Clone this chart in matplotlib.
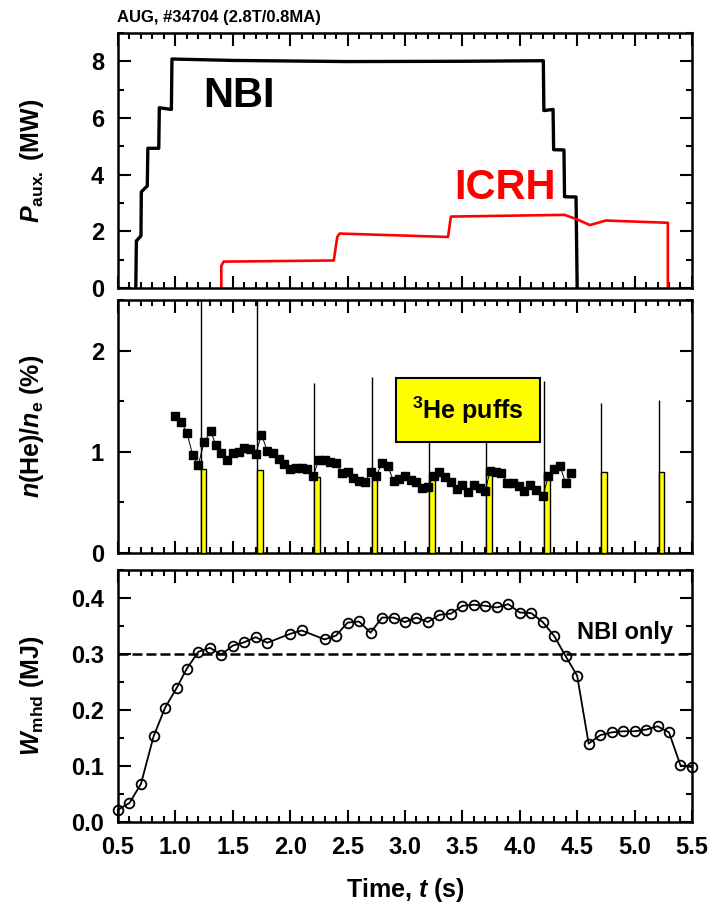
import matplotlib
matplotlib.use("Agg")
import matplotlib.pyplot as plt
from matplotlib.ticker import MultipleLocator, FormatStrFormatter

plt.rcParams['font.family'] = ['Liberation Sans', 'DejaVu Sans']
plt.rcParams['font.weight'] = 'bold'
plt.rcParams['axes.labelweight'] = 'bold'
plt.rcParams['mathtext.fontset'] = 'custom'
plt.rcParams['mathtext.rm'] = 'Liberation Sans:bold'
plt.rcParams['mathtext.it'] = 'Liberation Sans:italic:bold'
plt.rcParams['mathtext.bf'] = 'Liberation Sans:bold'

# --- auxiliary heating power (MW), breakpoints of the traces ---
nbi_t = [0.655, 0.66, 0.70, 0.703, 0.755, 0.76, 0.855, 0.86, 0.965, 0.97,
         1.5, 2.5, 3.5, 4.205, 4.21, 4.29, 4.295, 4.385, 4.39, 4.49, 4.50]
nbi_p = [0.0, 1.66, 1.84, 3.39, 3.60, 4.93, 4.93, 6.36, 6.30, 8.08,
         8.03, 7.99, 8.00, 8.02, 6.26, 6.30, 4.88, 4.87, 3.22, 3.21, 0.0]

icrh_t = [1.40, 1.40, 1.42, 2.38, 2.41, 2.43, 3.375, 3.40, 4.39, 4.50,
          4.61, 4.75, 5.29, 5.29]
icrh_p = [0.0, 0.78, 0.93, 0.97, 1.80, 1.92, 1.80, 2.52, 2.58, 2.42,
          2.22, 2.38, 2.30, 0.0]

# --- 3He puffs and helium concentration ---
puff_t = [1.22, 1.71, 2.21, 2.71, 3.21, 3.71, 4.21, 4.71, 5.21]
puff_spike = [3.0, 3.0, 1.68, 1.74, 1.70, 1.70, 1.70, 1.48, 1.51]
puff_bar = [0.83, 0.82, 0.75, 0.75, 0.79, 0.79, 0.79, 0.80, 0.80]

he_t = [1.00, 1.05, 1.10, 1.15, 1.20, 1.25, 1.31, 1.35, 1.40, 1.45,
        1.50, 1.55, 1.60, 1.65, 1.70, 1.75, 1.80, 1.85, 1.90, 1.95,
        2.00, 2.05, 2.10, 2.15, 2.20, 2.25, 2.30, 2.35, 2.40, 2.45,
        2.50, 2.55, 2.60, 2.65, 2.70, 2.75, 2.80, 2.85, 2.90, 2.95,
        3.00, 3.05, 3.10, 3.15, 3.20, 3.25, 3.30, 3.35, 3.40, 3.45,
        3.50, 3.55, 3.60, 3.65, 3.70, 3.74, 3.79, 3.84, 3.89, 3.94,
        3.99, 4.04, 4.09, 4.14, 4.20, 4.25, 4.30, 4.35, 4.40, 4.45]
he_frac = [1.35, 1.29, 1.19, 0.97, 0.87, 1.10, 1.20, 1.07, 0.99, 0.92,
           0.99, 1.00, 1.04, 1.03, 0.98, 1.17, 1.01, 0.99, 0.93, 0.88,
           0.83, 0.84, 0.84, 0.83, 0.76, 0.92, 0.92, 0.90, 0.89, 0.79,
           0.80, 0.74, 0.71, 0.70, 0.80, 0.76, 0.89, 0.86, 0.71, 0.73,
           0.76, 0.72, 0.70, 0.64, 0.65, 0.76, 0.80, 0.75, 0.70, 0.63,
           0.67, 0.60, 0.67, 0.64, 0.61, 0.81, 0.80, 0.79, 0.69, 0.69,
           0.66, 0.61, 0.67, 0.62, 0.56, 0.76, 0.83, 0.86, 0.69, 0.79]

# --- stored energy (MJ) ---
w_t = [0.50, 0.60, 0.70, 0.81, 0.91, 1.01, 1.10, 1.20, 1.30, 1.40,
       1.50, 1.60, 1.70, 1.80, 2.00, 2.10, 2.30, 2.40, 2.50, 2.60,
       2.70, 2.80, 2.90, 3.00, 3.10, 3.20, 3.30, 3.40, 3.50, 3.60,
       3.70, 3.80, 3.90, 4.00, 4.10, 4.20, 4.30, 4.40, 4.50, 4.60,
       4.70, 4.80, 4.90, 5.00, 5.10, 5.20, 5.30, 5.40, 5.50]
w_mhd = [0.022, 0.034, 0.068, 0.153, 0.204, 0.239, 0.274, 0.304, 0.311, 0.299,
         0.315, 0.321, 0.330, 0.320, 0.336, 0.342, 0.326, 0.333, 0.356, 0.358,
         0.338, 0.365, 0.365, 0.357, 0.365, 0.357, 0.370, 0.372, 0.386, 0.388,
         0.386, 0.383, 0.389, 0.374, 0.373, 0.357, 0.332, 0.296, 0.261, 0.140,
         0.155, 0.160, 0.162, 0.162, 0.165, 0.171, 0.160, 0.101, 0.098]
w_nbi_only = 0.30


def style(ax):
    ax.set_xlim(0.5, 5.5)
    ax.xaxis.set_major_locator(MultipleLocator(0.5))
    ax.xaxis.set_minor_locator(MultipleLocator(0.1))
    ax.tick_params(which='both', direction='in', top=True, right=True,
                   width=1.5, labelsize=17, pad=10)
    ax.tick_params(which='major', length=9)
    ax.tick_params(which='minor', length=4.5)
    for s in ax.spines.values():
        s.set_linewidth(1.8)


fig = plt.figure(figsize=(7.1, 9.05), dpi=100)
left, width = 0.1662, 0.8084
ax1 = fig.add_axes([left, 0.6818, width, 0.2818])
ax2 = fig.add_axes([left, 0.3890, width, 0.2796])
ax3 = fig.add_axes([left, 0.0917, width, 0.2785])

# panel 1: heating power
ax1.plot(nbi_t, nbi_p, color='black', lw=2.4)
ax1.plot(icrh_t, icrh_p, color='red', lw=1.9)
ax1.text(1.55, 6.76, 'NBI', fontsize=30, ha='center', va='center')
ax1.text(3.87, 3.52, 'ICRH', fontsize=30, color='red', ha='center', va='center')
style(ax1)
ax1.set_ylim(0, 9)
ax1.yaxis.set_major_locator(MultipleLocator(2))
ax1.yaxis.set_minor_locator(MultipleLocator(1))
ax1.tick_params(labelbottom=False)
ax1.set_ylabel(r'$P_{\rm aux.}$ (MW)', fontsize=18)
ax1.yaxis.set_label_coords(-0.125, 0.5)

# panel 2: helium concentration and puffs
ax2.vlines(puff_t, 0, puff_spike, color='black', lw=1.0, zorder=2)
ax2.bar(puff_t, puff_bar, width=0.05, align='edge', color='#ffff00',
        edgecolor='black', lw=1.0, zorder=3)
ax2.plot(he_t, he_frac, '-s', color='black', lw=0.7, ms=5.8, zorder=4)
ax2.text(3.55, 1.41, r'$^{\rm 3}$He puffs', fontsize=18, ha='center', va='center',
         zorder=6, bbox=dict(boxstyle='square,pad=0.65', fc='#ffff00',
                             ec='black', lw=1.5))
style(ax2)
ax2.set_ylim(0, 2.5)
ax2.yaxis.set_major_locator(MultipleLocator(1))
ax2.yaxis.set_minor_locator(MultipleLocator(0.5))
ax2.tick_params(labelbottom=False)
ax2.set_ylabel(r'$n$(He)/$n_{\rm e}$ (%)', fontsize=18)
ax2.yaxis.set_label_coords(-0.125, 0.5)

# panel 3: stored energy
ax3.plot(w_t, w_mhd, '-o', color='black', lw=1.3, ms=7, mfc='none', mew=1.3,
         clip_on=False, zorder=4)
ax3.axhline(w_nbi_only, color='black', lw=1.8, dashes=(4, 1.6))
ax3.text(4.92, 0.3375, 'NBI only', fontsize=17, ha='center', va='center')
style(ax3)
ax3.set_ylim(0, 0.45)
ax3.yaxis.set_major_locator(MultipleLocator(0.1))
ax3.yaxis.set_minor_locator(MultipleLocator(0.05))
ax3.yaxis.set_major_formatter(FormatStrFormatter('%.1f'))
ax3.xaxis.set_major_formatter(FormatStrFormatter('%.1f'))
ax3.set_ylabel(r'$W_{\rm mhd}$ (MJ)', fontsize=18)
ax3.yaxis.set_label_coords(-0.125, 0.5)
ax3.set_xlabel(r'Time, $t$ (s)', fontsize=18)
ax3.xaxis.set_label_coords(0.5, -0.215)

fig.text(117 / 710, 1 - 22 / 905, 'AUG, #34704 (2.8T/0.8MA)', fontsize=12,
         ha='left', va='baseline')

fig.savefig('out.png', dpi=100)
